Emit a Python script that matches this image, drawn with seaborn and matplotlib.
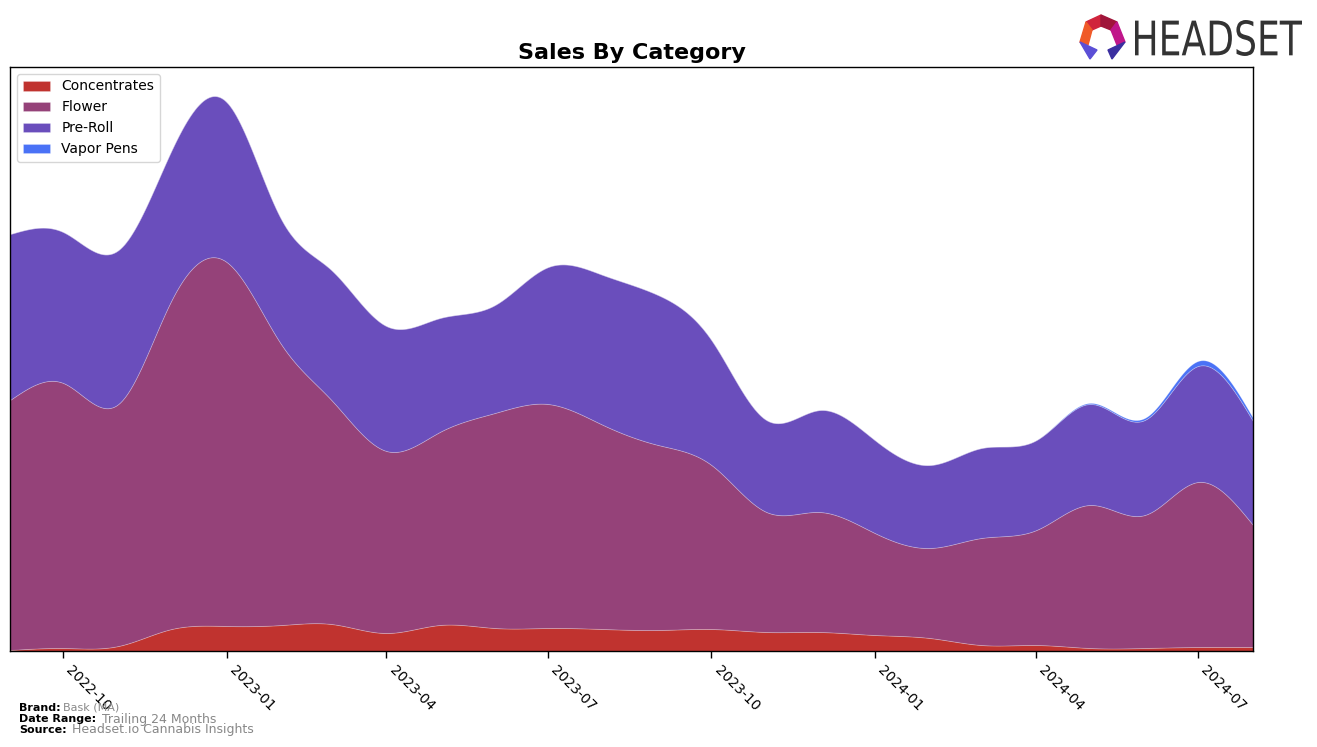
import numpy as np
import pandas as pd
import matplotlib
matplotlib.use("Agg")
import matplotlib.pyplot as plt
import matplotlib.dates as mdates
from matplotlib.patches import Polygon, PathPatch
from matplotlib.textpath import TextPath
from matplotlib.font_manager import FontProperties
from matplotlib.transforms import Affine2D
import seaborn as sns

# ---- data (pixel-height estimates, arbitrary units) ----
months = pd.date_range("2022-09-01", "2024-08-01", freq="MS")
categories = ["Concentrates", "Flower", "Pre-Roll", "Vapor Pens"]
concentrates = [1, 3, 5, 22, 25, 26, 27, 18, 26, 23, 23, 22, 21, 22, 19, 19, 16, 13, 6, 6, 3, 3, 4, 4]
flower = [250, 265, 242, 329, 364, 280, 224, 182, 193, 215, 224, 204, 185, 164, 120, 120, 102, 90, 107, 115, 143, 133, 165, 122]
preroll = [166, 151, 154, 150, 160, 125, 130, 125, 114, 108, 137, 150, 150, 125, 92, 102, 93, 83, 90, 90, 101, 95, 116, 104]
vapor_pens = [0, 0, 0, 0, 0, 0, 0, 0, 0, 0, 0, 0, 0, 0, 0, 0, 0, 0, 0, 0, 1, 2, 5, 3]
colors = ["#c0332f", "#954279", "#6a4ebc", "#4a72f6"]


def natural_spline(x, y, xs):
    x = np.asarray(x, float)
    y = np.asarray(y, float)
    n = len(x)
    h = np.diff(x)
    A = np.zeros((n, n))
    b = np.zeros(n)
    A[0, 0] = A[-1, -1] = 1
    for i in range(1, n - 1):
        A[i, i - 1] = h[i - 1]
        A[i, i] = 2 * (h[i - 1] + h[i])
        A[i, i + 1] = h[i]
        b[i] = 3 * ((y[i + 1] - y[i]) / h[i] - (y[i] - y[i - 1]) / h[i - 1])
    c = np.linalg.solve(A, b)
    out = np.empty_like(xs)
    idx = np.clip(np.searchsorted(x, xs) - 1, 0, n - 2)
    for k, xv in enumerate(xs):
        i = idx[k]
        bi = (y[i + 1] - y[i]) / h[i] - h[i] * (2 * c[i] + c[i + 1]) / 3
        di = (c[i + 1] - c[i]) / (3 * h[i])
        dx = xv - x[i]
        out[k] = y[i] + bi * dx + c[i] * dx ** 2 + di * dx ** 3
    return out


sns.set_style("ticks", {"axes.edgecolor": "black", "xtick.color": "black"})
plt.rcParams["font.family"] = ["DejaVu Sans"]
plt.rcParams["text.color"] = "black"
plt.rcParams["axes.labelcolor"] = "black"

W, H = 1317, 747
fig = plt.figure(figsize=(W / 100, H / 100), dpi=100)
ax = fig.add_axes([10 / W, 1 - 651 / H, (1253 - 10) / W, (651 - 67) / H])

xnum = mdates.date2num(months)
xs = np.linspace(xnum[0], xnum[-1], 600)
series = [concentrates, flower, preroll, vapor_pens]
smooth = [np.clip(natural_spline(xnum, s, xs), 0, None) for s in series]
ax.stackplot(mdates.num2date(xs), *smooth, labels=categories, colors=colors,
             linewidth=0.6, edgecolor="#ffffff40")

ax.set_xlim(mdates.num2date(xnum[0]), mdates.num2date(xnum[-1]))
ax.set_ylim(0, 584)
ax.set_yticks([])
ticks = pd.date_range("2022-10-01", "2024-07-01", freq="3MS")
ax.set_xticks(ticks)
ax.set_xticklabels([t.strftime("%Y-%m") for t in ticks], rotation=-45, ha="left",
                   fontsize=10, color="black")
ax.tick_params(axis="x", length=5, width=1, direction="out", bottom=True, colors="black")
for sp in ax.spines.values():
    sp.set_color("black")
    sp.set_linewidth(1)
ax.set_title("Sales By Category", fontsize=16, fontweight="bold", pad=6, color="black")
ax.legend(loc="upper left", fontsize=10, frameon=True, borderaxespad=0.5)

# footer
fig.text(19 / W, 1 - 708 / H, "Brand:", fontsize=8, fontweight="bold", va="center")
fig.text(63 / W, 1 - 708 / H, "Bask (MA)", fontsize=8, color="#888888", va="center")
fig.text(19 / W, 1 - 719 / H, "Date Range:", fontsize=8, fontweight="bold", va="center")
fig.text(102 / W, 1 - 719 / H, "Trailing 24 Months", fontsize=9, color="#888888", va="center")
fig.text(19 / W, 1 - 730 / H, "Source:", fontsize=8, fontweight="bold", va="center")
fig.text(72 / W, 1 - 730 / H, "Headset.io Cannabis Insights", fontsize=9, color="#888888", va="center")

# logo (pixel-space axes covering the logo area, y downward)
lax = fig.add_axes([1075 / W, 1 - 65 / H, 240 / W, 60 / H])
lax.set_xlim(1075, 1315)
lax.set_ylim(65, 5)
lax.axis("off")
segs = [
    ([(1086, 22), (1101, 15), (1101, 26), (1092, 30)], "#d0243c"),
    ([(1101, 15), (1117, 22), (1111, 30), (1101, 26)], "#a0153a"),
    ([(1117, 22), (1125, 42), (1117, 45), (1111, 30)], "#c0168a"),
    ([(1086, 22), (1092, 30), (1088, 45), (1080, 42)], "#f05a28"),
    ([(1080, 42), (1097, 50), (1090, 59)], "#5b4fd6"),
    ([(1108, 50), (1125, 42), (1112, 59)], "#3b2fa0"),
]
for pts, c in segs:
    lax.add_patch(Polygon(pts, closed=True, color=c))
tp = TextPath((0, 0), "HEADSET", size=10, prop=FontProperties(family="DejaVu Sans"))
bb = tp.get_extents()
sx = (1302 - 1135) / bb.width
sy = (56 - 20) / bb.height
tr = Affine2D().translate(-bb.x0, -bb.y0).scale(sx, -sy).translate(1135, 56)
lax.add_patch(PathPatch(tr.transform_path(tp), color="#333333", lw=0))

fig.savefig("out.png", dpi=100)
